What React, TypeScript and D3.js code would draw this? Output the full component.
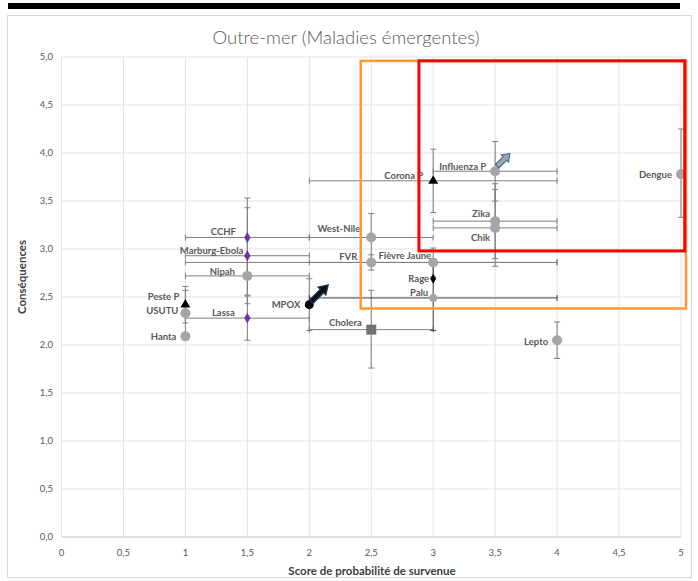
import React from "react";
import * as d3 from "d3";

// ---------- data ----------
const names = ["CCHF","Marburg-Ebola","Nipah","Lassa","Peste P","USUTU","Hanta","MPOX","Cholera","West-Nile","FVR","Fièvre Jaune","Rage","Palu","Corona P","Influenza P","Zika","Chik","Dengue","Lepto"];
const probScore = [1.5,1.5,1.5,1.5,1.0,1.0,1.0,2.0,2.5,2.5,2.5,3.0,3.0,3.0,3.0,3.5,3.5,3.5,5.0,4.0];
const consequences = [3.12,2.93,2.72,2.28,2.42,2.33,2.09,2.42,2.16,3.12,2.86,2.86,2.69,2.49,3.71,3.81,3.29,3.22,3.78,2.05];
const probLow  = [1.0,1.0,1.0,1.0,1.0,1.0,1.0,2.0,2.0,2.0,1.0,2.0,3.0,2.0,2.0,3.0,3.0,3.0,5.0,4.0];
const probHigh = [2.0,2.0,2.0,2.0,1.0,1.0,1.0,2.0,3.0,3.0,4.0,4.0,3.0,4.0,4.0,4.0,4.0,4.0,5.0,4.0];
const consLow  = [2.71,2.43,2.52,2.05,2.23,2.09,2.09,2.15,1.76,2.87,2.78,2.71,2.69,2.15,3.38,3.50,2.90,2.82,3.33,1.86];
const consHigh = [3.53,3.43,2.92,2.51,2.61,2.57,2.09,2.69,2.57,3.37,2.94,3.01,2.69,2.83,4.04,4.12,3.68,3.62,4.25,2.24];
const markerKind = ["diamond","diamond","circle","diamond","triangle","circle","circle","dot","square","circle","circle","circle","bdiamond","circle","triangle","circle","circle","circle","circle","circle"];

const xTicks = [0,0.5,1,1.5,2,2.5,3,3.5,4,4.5,5];
const yTicks = [0,0.5,1,1.5,2,2.5,3,3.5,4,4.5,5];

// zones (data units)
const orangeZone = { x0: 2.415, x1: 5.04, y0: 2.38, y1: 4.96 };
const redZone = { x0: 2.885, x1: 5.03, y0: 2.98, y1: 4.96 };

// ---------- layout ----------
const W = 698, H = 581;
const labelLayout: [number, number, string][] = [
  [-24,-6,"middle"],[-4,-5,"end"],[-25,-4,"middle"],[-24,-5,"middle"],[-6,-8,"end"],[-7,-3,"end"],[-9,0,"end"],[-9,0,"end"],[-9.5,-7,"end"],[-11,-9,"end"],[-14,-6,"end"],[-2,-7,"end"],[-4,0,"end"],[-5,-5,"end"],[-10,-5,"end"],[-9,-5,"end"],[-5,-7,"end"],[-5,10,"end"],[-9,1,"end"],[-9,1,"end"]
];

const FONT = "Lato, 'Open Sans', 'DejaVu Sans', sans-serif";
const TXT = "#595959";

function Arrow({ x, y, len, shaft, head, headLen, fill, stroke }: any) {
  // arrow pointing up-right at 45 degrees, starting at (x,y)
  const p = [
    [0, -shaft / 2], [len - headLen, -shaft / 2], [len - headLen, -head / 2], [len, 0],
    [len - headLen, head / 2], [len - headLen, shaft / 2], [0, shaft / 2]
  ];
  const d = "M" + p.map((q) => q.join(",")).join("L") + "Z";
  return <path d={d} transform={`translate(${x},${y}) rotate(-45)`} fill={fill} stroke={stroke} strokeWidth={1.2} strokeLinejoin="miter" />;
}

export default function App() {
  const x = d3.scaleLinear().domain([0, 5]).range([61.5, 681]);
  const y = d3.scaleLinear().domain([0, 5]).range([537, 57]);
  const fmt = (v: number) => (v === 0 ? "0" : String(v).replace(".", ","));
  const fmtY = (v: number) => v.toFixed(1).replace(".", ",");
  const cap = 3;
  const errColor = "#7f7f7f";

  const idxMpox = names.indexOf("MPOX");
  const idxFlu = names.indexOf("Influenza P");

  return (
    <svg width={W} height={H} style={{ position: "absolute", left: 0, top: 0, background: "#fff" }} fontFamily={FONT}>
      <rect x={0} y={0} width={W} height={H} fill="#fff" />
      <rect x={8} y={3} width={672} height={6} fill="#000" />
      <rect x={7.5} y={15.5} width={684} height={562} fill="none" stroke="#d9d9d9" />
      <text x={346} y={44} textAnchor="middle" fontSize={18.5} fontWeight={300} fill={TXT}>Outre-mer (Maladies émergentes)</text>

      {/* grid */}
      {yTicks.map((t) => (
        <line key={"gy" + t} x1={x(0)} x2={x(5)} y1={y(t)} y2={y(t)} stroke={t === 0 ? "#bfbfbf" : "#e3e3e3"} strokeWidth={1} />
      ))}
      {xTicks.map((t) => (
        <line key={"gx" + t} x1={x(t)} x2={x(t)} y1={y(0)} y2={y(5)} stroke="#e3e3e3" strokeWidth={1} />
      ))}
      {yTicks.map((t) => (
        <text key={"ty" + t} x={53} y={y(t)} dy="0.35em" textAnchor="end" fontSize={9.5} fill={TXT}>{fmtY(t)}</text>
      ))}
      {xTicks.map((t) => (
        <text key={"tx" + t} x={x(t)} y={556} textAnchor="middle" fontSize={9.5} fill={TXT}>{fmt(t)}</text>
      ))}
      <text x={372} y={575} textAnchor="middle" fontSize={11.5} fontWeight={700} fill="#404040">Score de probabilité de survenue</text>
      <text transform={`translate(26,${277}) rotate(-90)`} textAnchor="middle" fontSize={11.5} fontWeight={700} fill="#404040">Conséquences</text>

      {/* error bars */}
      {names.map((n, i) => (
        <g key={"eb" + n} stroke={n === "Palu" ? "#404040" : errColor} strokeWidth={1}>
          {probHigh[i] !== probLow[i] && (
            <>
              <line x1={x(probLow[i])} x2={x(probHigh[i])} y1={y(consequences[i])} y2={y(consequences[i])} />
              <line x1={x(probLow[i])} x2={x(probLow[i])} y1={y(consequences[i]) - cap} y2={y(consequences[i]) + cap} />
              <line x1={x(probHigh[i])} x2={x(probHigh[i])} y1={y(consequences[i]) - cap} y2={y(consequences[i]) + cap} />
            </>
          )}
          {consHigh[i] !== consLow[i] && (
            <>
              <line x1={x(probScore[i])} x2={x(probScore[i])} y1={y(consLow[i])} y2={y(consHigh[i])} />
              <line x1={x(probScore[i]) - cap} x2={x(probScore[i]) + cap} y1={y(consLow[i])} y2={y(consLow[i])} />
              <line x1={x(probScore[i]) - cap} x2={x(probScore[i]) + cap} y1={y(consHigh[i])} y2={y(consHigh[i])} />
            </>
          )}
        </g>
      ))}

      {/* markers */}
      {names.map((n, i) => {
        const cx = x(probScore[i]), cy = y(consequences[i]);
        const k = markerKind[i];
        if (k === "circle") return <circle key={"m" + n} cx={cx} cy={cy} r={n === "Palu" ? 4 : 5} fill="#a5a5a5" />;
        if (k === "dot") return <circle key={"m" + n} cx={cx} cy={cy} r={4.5} fill="#000" />;
        if (k === "diamond") return <path key={"m" + n} d={d3.symbol(d3.symbolDiamond, 34)()!} transform={`translate(${cx},${cy})`} fill="#7030a0" />;
        if (k === "bdiamond") return <path key={"m" + n} d={d3.symbol(d3.symbolDiamond, 30)()!} transform={`translate(${cx},${cy})`} fill="#000" />;
        if (k === "triangle") return <path key={"m" + n} d={d3.symbol(d3.symbolTriangle, 42)()!} transform={`translate(${cx},${cy})`} fill="#000" />;
        return <rect key={"m" + n} x={cx - 5} y={cy - 5} width={10} height={10} fill="#767171" />;
      })}

      {/* labels */}
      {names.map((n, i) => (
        <text key={"l" + n} x={x(probScore[i]) + labelLayout[i][0]} y={y(consequences[i]) + labelLayout[i][1]} dy="0.35em"
          textAnchor={labelLayout[i][2] as any} fontSize={9.5} fontWeight={700} fill={TXT}>{n}</text>
      ))}

      {/* arrows */}
      <Arrow x={x(probScore[idxMpox]) + 2} y={y(consequences[idxMpox]) - 3} len={24} shaft={5} head={11} headLen={9} fill="#111" stroke="#1f3864" />
      <Arrow x={x(probScore[idxFlu]) + 2} y={y(consequences[idxFlu]) - 5} len={18} shaft={5} head={10} headLen={7} fill="#a5a5a5" stroke="#41719c" />

      {/* zones */}
      <rect x={x(orangeZone.x0)} y={y(orangeZone.y1)} width={x(orangeZone.x1) - x(orangeZone.x0)} height={y(orangeZone.y0) - y(orangeZone.y1)} fill="none" stroke="#ff9933" strokeWidth={2.5} />
      <rect x={x(redZone.x0)} y={y(redZone.y1)} width={x(redZone.x1) - x(redZone.x0)} height={y(redZone.y0) - y(redZone.y1)} fill="none" stroke="#ff0000" strokeWidth={3} />
    </svg>
  );
}
